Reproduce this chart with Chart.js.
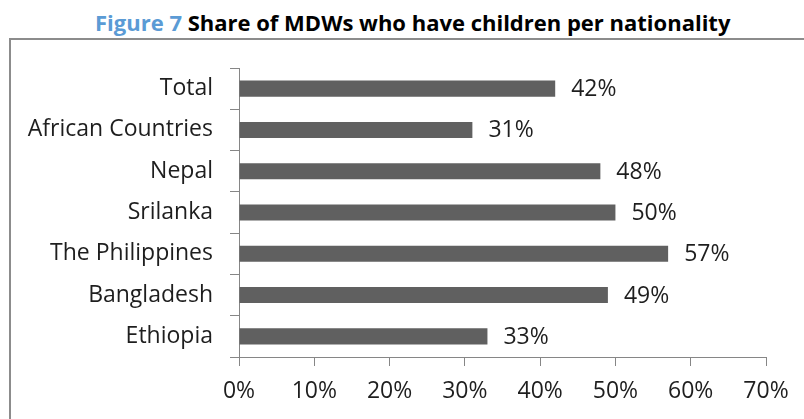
<!DOCTYPE html>
<html>
<head>
<meta charset="utf-8">
<script src="https://cdn.jsdelivr.net/npm/chart.js@4"></script>
<style>
  html, body { margin: 0; padding: 0; background: #fff; overflow: hidden; }
  #wrap { position: relative; width: 804px; height: 419px; }
  #title {
    position: absolute; left: 95px; top: 11px; white-space: nowrap; line-height: 22px;
    font-family: "Open Sans", sans-serif; font-weight: bold; font-size: 22px; color: #000;
  }
  #title span { color: #5b9bd5; }
  #frame {
    position: absolute; left: 9px; top: 38px; width: 900px; height: 500px;
    border: 2px solid #8c8c8c;
  }
  #box { position: absolute; left: 0; top: 0; width: 804px; height: 419px; }
</style>
</head>
<body>
<div id="wrap">
  <div id="title"><span>Figure 7</span> Share of MDWs who have children per nationality</div>
  <div id="frame"></div>
  <div id="box"><canvas id="chart"></canvas></div>
</div>
<script>
// data
const nationalities = ['Total', 'African Countries', 'Nepal', 'Srilanka', 'The Philippines', 'Bangladesh', 'Ethiopia'];
const shareWithChildren = [42, 31, 48, 50, 57, 49, 33];
const axisTicks = [0, 10, 20, 30, 40, 50, 60, 70];

const labelFont = { family: 'Open Sans', size: 23 };
const textColor = '#1e1e1e';
const axisColor = '#868686';

// value labels at the end of each bar
const barLabels = {
    id: 'barLabels',
    afterDatasetsDraw(chart) {
        const ctx = chart.ctx;
        const meta = chart.getDatasetMeta(0);
        ctx.save();
        ctx.font = labelFont.size + 'px "' + labelFont.family + '"';
        ctx.fillStyle = textColor;
        ctx.textAlign = 'left';
        ctx.textBaseline = 'middle';
        meta.data.forEach((bar, i) => {
            ctx.fillText(shareWithChildren[i] + '%', bar.x + 16, bar.y + 1);
        });
        ctx.restore();
    }
};

new Chart(document.getElementById('chart'), {
    type: 'bar',
    data: {
        labels: nationalities,
        datasets: [{
            data: shareWithChildren,
            backgroundColor: '#606060',
            barPercentage: 1,
            categoryPercentage: 0.39
        }]
    },
    options: {
        indexAxis: 'y',
        responsive: true,
        maintainAspectRatio: false,
        animation: false,
        events: [],
        layout: { padding: { left: 0, top: 68, right: 38, bottom: 0 } },
        plugins: {
            legend: { display: false },
            tooltip: { enabled: false }
        },
        scales: {
            x: {
                min: axisTicks[0],
                max: axisTicks[axisTicks.length - 1],
                afterFit: s => { s.height = 62; },
                afterBuildTicks: s => { s.ticks = axisTicks.map(v => ({ value: v })); },
                ticks: {
                    callback: v => v + '%',
                    font: labelFont,
                    color: textColor,
                    padding: 12,
                    maxRotation: 0
                },
                grid: { drawOnChartArea: false, drawTicks: true, tickLength: 9, color: axisColor },
                border: { display: true, color: axisColor }
            },
            y: {
                afterFit: s => { s.width = 239; },
                ticks: { font: labelFont, color: textColor, padding: 17 },
                grid: { drawOnChartArea: false, drawTicks: true, tickLength: 9, offset: true, color: axisColor },
                border: { display: true, color: axisColor }
            }
        }
    },
    plugins: [barLabels]
});
</script>
</body>
</html>
